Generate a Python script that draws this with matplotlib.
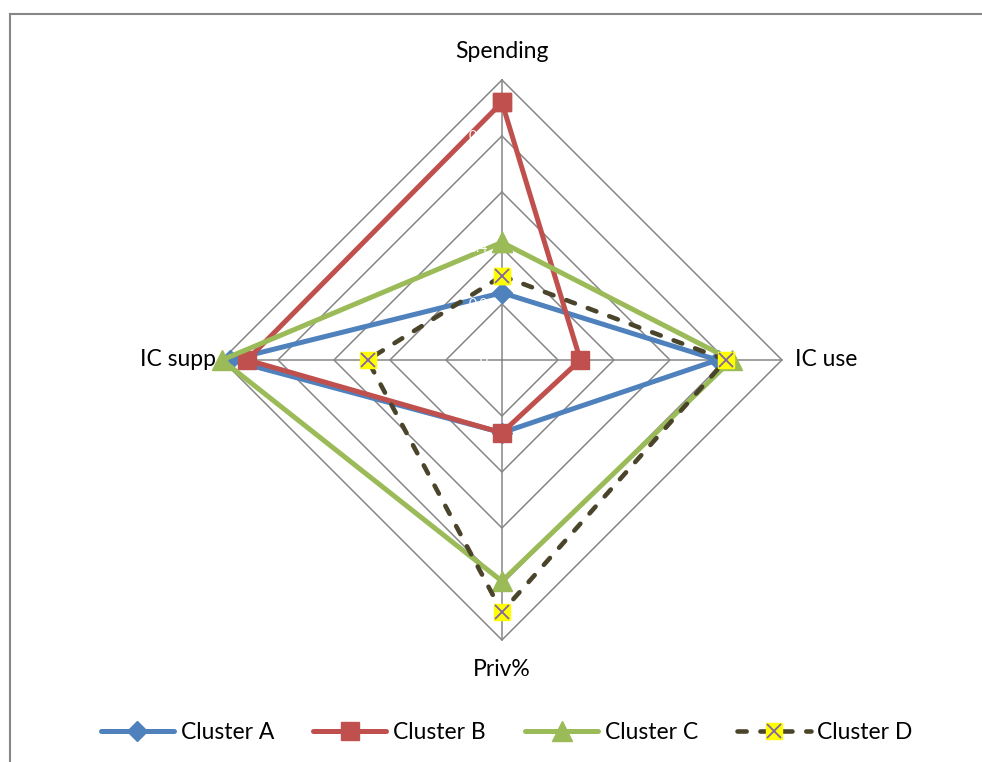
import numpy as np
import matplotlib
matplotlib.use('Agg')
import matplotlib.pyplot as plt
from matplotlib.lines import Line2D
from matplotlib.legend_handler import HandlerTuple

# radar axes, clockwise from the top
axis_names = ["Spending", "IC use", "Priv%", "IC supp"]
ring_levels = [0.2, 0.4, 0.6, 0.8, 1.0]
tick_labels = ["0", "0.2", "0.4", "0.6", "0.8", "1"]  # white in the original

cluster_a = [0.24, 0.77, 0.26, 0.97]
cluster_b = [0.92, 0.28, 0.26, 0.91]
cluster_c = [0.42, 0.82, 0.79, 1.00]
cluster_d = [0.30, 0.80, 0.90, 0.48]

plt.rcParams['font.family'] = ['Lato', 'DejaVu Sans']

angles = np.pi / 2 - np.arange(len(axis_names)) * np.pi / 2


def to_xy(vals):
    vals = np.asarray(vals, dtype=float)
    x = vals * np.cos(angles)
    y = vals * np.sin(angles)
    return np.append(x, x[0]), np.append(y, y[0])


fig = plt.figure(figsize=(9.82, 7.62), dpi=100)
ax = fig.add_axes([0.1405, 0.0499, 0.7413, 0.9554])
ax.set_xlim(-1.3, 1.3)
ax.set_ylim(-1.3, 1.3)
ax.axis('off')

# chart frame (only left and top edges are visible)
fig.add_artist(Line2D([10 / 982, 10 / 982], [0, 1 - 14 / 762], color='#868686', lw=1.5,
                      transform=fig.transFigure))
fig.add_artist(Line2D([10 / 982, 1], [1 - 14 / 762, 1 - 14 / 762], color='#868686', lw=1.5,
                      transform=fig.transFigure))

# grid
grid_col = '#868686'
for r in ring_levels:
    gx, gy = to_xy([r] * len(axis_names))
    ax.plot(gx, gy, color=grid_col, lw=1.1, zorder=1)
for a in angles:
    ax.plot([0, np.cos(a)], [0, np.sin(a)], color=grid_col, lw=1.1, zorder=1)

# series
x, y = to_xy(cluster_a)
ax.plot(x, y, color='#4F81BD', lw=3.6, marker='D', ms=10, zorder=3)
x, y = to_xy(cluster_b)
ax.plot(x, y, color='#C0504D', lw=3.6, marker='s', ms=13, zorder=4)
x, y = to_xy(cluster_c)
ax.plot(x, y, color='#9BBB59', lw=3.6, marker='^', ms=15, zorder=5)
x, y = to_xy(cluster_d)
ax.plot(x, y, color='#4A452A', lw=3.3, ls=(0, (2, 3)), dash_capstyle='round',
        marker='s', ms=12, mfc='#FFFF00', mec='#FFFF00', zorder=6)
ax.plot(x[:-1], y[:-1], ls='none', marker='x', ms=10, mew=1.3, color='#8064A2', zorder=7)

# hidden (white) tick labels along the top axis
levels = [0] + ring_levels
for lv, lab in zip(levels, tick_labels):
    ax.text(-0.05, lv, lab, color='white', fontsize=10, ha='right', va='center', zorder=8)

# axis labels
lab_fs = 16.5
ax.text(0, 1.10, axis_names[0], ha='center', va='center', fontsize=lab_fs)
ax.text(1.045, 0, axis_names[1], ha='left', va='center', fontsize=lab_fs)
ax.text(0, -1.107, axis_names[2], ha='center', va='center', fontsize=lab_fs)
ax.text(-1.022, 0, axis_names[3], ha='right', va='center', fontsize=lab_fs, zorder=2)

# legend
h_a = Line2D([], [], color='#4F81BD', lw=3.6, marker='D', ms=10, solid_capstyle='round')
h_b = Line2D([], [], color='#C0504D', lw=3.6, marker='s', ms=13, solid_capstyle='round')
h_c = Line2D([], [], color='#9BBB59', lw=3.6, marker='^', ms=15, solid_capstyle='round')
h_d1 = Line2D([], [], color='#4A452A', lw=3.3, ls=(0, (2, 3)), dash_capstyle='round',
              marker='s', ms=12, mfc='#FFFF00', mec='#FFFF00')
h_d2 = Line2D([], [], ls='none', marker='x', ms=10, mew=1.3, color='#8064A2')
fig.legend([h_a, h_b, h_c, (h_d1, h_d2)],
           ["Cluster A", "Cluster B", "Cluster C", "Cluster D"],
           handler_map={tuple: HandlerTuple(ndivide=1, pad=0)},
           loc='center', bbox_to_anchor=(0.516, 0.039), ncol=4, frameon=False,
           fontsize=lab_fs, handlelength=3.2, handletextpad=0.3, columnspacing=1.7)

fig.savefig('out.png', dpi=100)
